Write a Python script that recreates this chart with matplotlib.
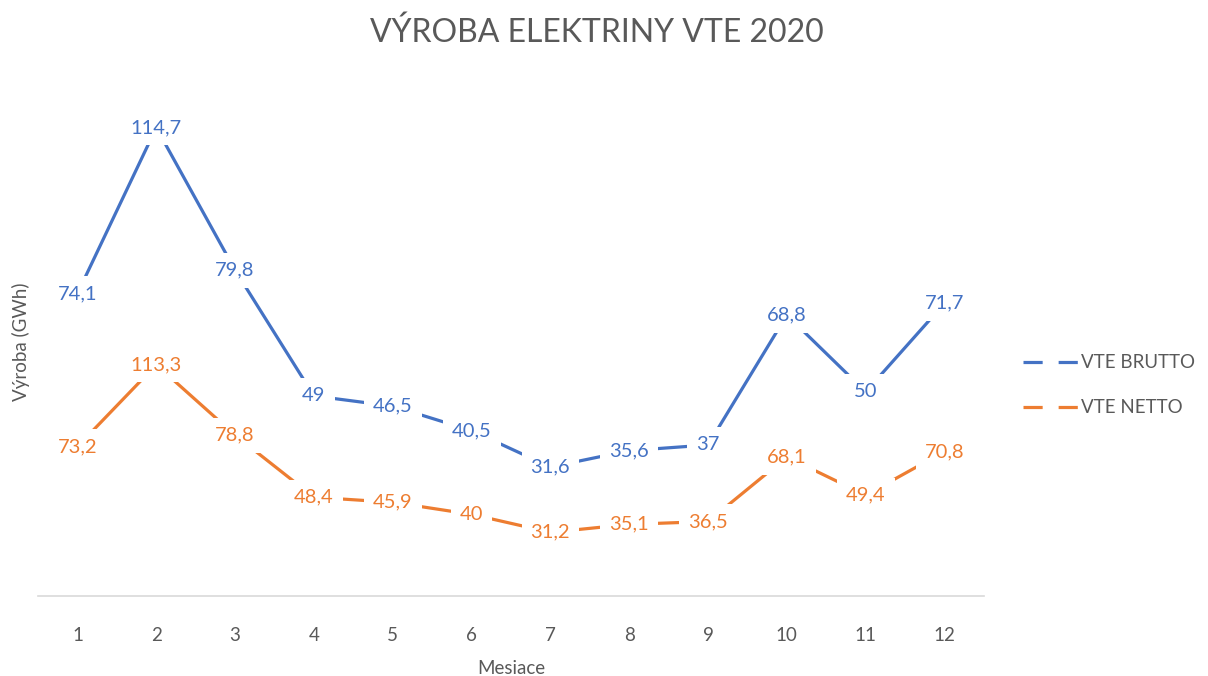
import matplotlib.pyplot as plt
from matplotlib.lines import Line2D

plt.rcParams['font.family'] = ['Lato', 'DejaVu Sans']

# data
months = list(range(1, 13))
brutto = [74.1, 114.7, 79.8, 49, 46.5, 40.5, 31.6, 35.6, 37, 68.8, 50, 71.7]
netto = [73.2, 113.3, 78.8, 48.4, 45.9, 40, 31.2, 35.1, 36.5, 68.1, 49.4, 70.8]

blue = '#4472C4'
orange = '#ED7D31'
grey = '#595959'


def fmt(v):
    s = ('%g' % v).replace('.', ',')
    return s


fig = plt.figure(figsize=(12.08, 6.76), dpi=100)
ax = fig.add_axes([0.0315, 0.1183, 0.783, 0.7249])
ax2 = ax.twinx()

ax.plot(months, brutto, color=blue, lw=2.3, solid_capstyle='butt')
ax2.plot(months, netto, color=orange, lw=2.3, solid_capstyle='butt')

box = dict(boxstyle='square,pad=0.45', facecolor='white', edgecolor='none')
for m, v in zip(months, brutto):
    ax.text(m, v, fmt(v), color=blue, fontsize=14.5, ha='center', va='center',
            bbox=box, zorder=5)
for m, v in zip(months, netto):
    ax2.text(m, v, fmt(v), color=orange, fontsize=14.5, ha='center', va='center',
             bbox=box, zorder=5)

ax.set_xlim(0.5, 12.5)
ax.set_ylim(0, 120)
ax2.set_ylim(0, 240)

for a in (ax, ax2):
    for s in a.spines.values():
        s.set_visible(False)
    a.set_yticks([])
ax.spines['bottom'].set_visible(True)
ax.spines['bottom'].set_color('#D9D9D9')
ax.spines['bottom'].set_linewidth(1.2)

ax.set_xticks(months)
ax.set_xticklabels([str(m) for m in months])
ax.tick_params(axis='x', length=0, pad=22, labelsize=13.5, labelcolor=grey)
ax.set_xlabel('Mesiace', fontsize=13.5, color=grey, labelpad=12)

fig.text(0.017, 0.495, 'Výroba (GWh)', rotation=90, ha='center', va='center',
         fontsize=13.5, color=grey)
fig.text(0.494, 0.951, 'VÝROBA ELEKTRINY VTE 2020', ha='center', va='center',
         fontsize=23, color=grey)

handles = [Line2D([], [], color=blue, lw=2.3, linestyle=(0, (6, 5))),
           Line2D([], [], color=orange, lw=2.3, linestyle=(0, (6, 5)))]
fig.legend(handles, ['VTE BRUTTO', 'VTE NETTO'], loc='center left',
           bbox_to_anchor=(0.833, 0.43), frameon=False, fontsize=13.5,
           labelcolor=grey, handlelength=2.9, handletextpad=0.2,
           labelspacing=1.5)

fig.savefig('out.png', dpi=100)
